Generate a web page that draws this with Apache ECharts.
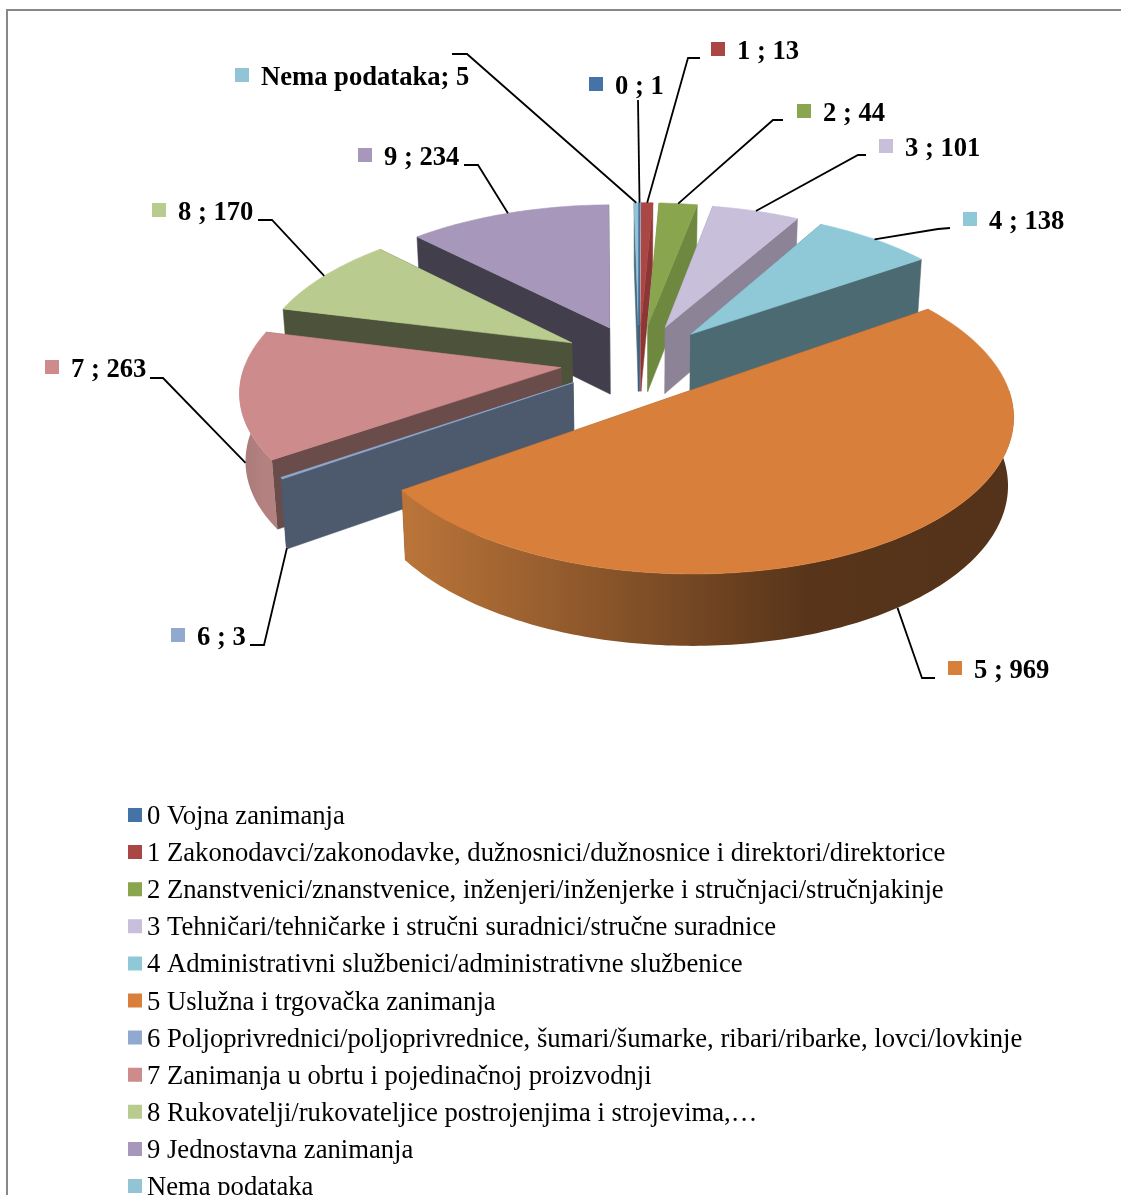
<!DOCTYPE html>
<html><head><meta charset="utf-8">
<style>html,body{margin:0;padding:0;background:#fff;overflow:hidden}#c{width:1121px;height:1195px}</style>
<script src="https://cdn.jsdelivr.net/npm/echarts@6/dist/echarts.min.js"></script>
</head><body><div id="c"></div>
<script>
// ---- data ----
const codes = ['0','1','2','3','4','5','6','7','8','9','Nema podataka'];
const values = [1,13,44,101,138,969,3,263,170,234,5];
const legendNames = [
 '0 Vojna zanimanja',
 '1 Zakonodavci/zakonodavke, dužnosnici/dužnosnice i direktori/direktorice',
 '2 Znanstvenici/znanstvenice, inženjeri/inženjerke i stručnjaci/stručnjakinje',
 '3 Tehničari/tehničarke i stručni suradnici/stručne suradnice',
 '4 Administrativni službenici/administrativne službenice',
 '5 Uslužna i trgovačka zanimanja',
 '6 Poljoprivrednici/poljoprivrednice, šumari/šumarke, ribari/ribarke, lovci/lovkinje',
 '7 Zanimanja u obrtu i pojedinačnoj proizvodnji',
 '8 Rukovatelji/rukovateljice postrojenjima i strojevima,…',
 '9 Jednostavna zanimanja',
 'Nema podataka'
];
// ---- style ----
const topColors  = ['#4572a7','#aa4643','#89a54e','#c8bfda','#8fc9d8','#d8803b','#92a9cf','#cd8c8b','#b9cb8f','#a697bb','#93c4d6'];
const wallColors = ['#2f4a6e','#8a3735','#6f8840','#8c8396','#4c6a72','#8a5226','#4d5a6e','#6a4c4a','#4c533a','#433e4b','#4a6a78'];
const outerStops = {5:['#bb7539','#57341a','#54331a'],7:['#a87a79','#b38180','#b38180']};
const drawOrder = [10,0,1,2,3,4,9,8,7,6,5];
const keys = [[589,77],[711,42],[797,104],[879,139],[963,212],[948,661],[171,628],[45,360],[152,203],[358,148],[235,68]];
// leader elbows: label end, elbow; wf = fraction of wall height where the leader meets the slice
const leaders = [
 {p:[[638,100]],wf:0},
 {p:[[700,58],[688,58]],wf:0},
 {p:[[783,120],[773,120]],wf:0},
 {p:[[866,155],[858,155]],wf:0},
 {p:[[950,228],[938,229]],wf:0},
 {p:[[935,678],[922,678]],wf:1},
 {p:[[250,645],[264,645]],wf:1},
 {p:[[150,378],[163,378]],wf:1},
 {p:[[258,220],[272,220]],wf:0},
 {p:[[464,165],[478,165]],wf:0},
 {p:[[452,54],[467,54]],wf:0}
];
const cx=639, cy=361, Rx=315, A=148, D=7.4, EXPL=0.25, H=67, BOTTOM_X=0.985;
const total = values.reduce((a,b)=>a+b,0);
const cum=[]; values.reduce((a,v,i)=>{cum[i]=a;return a+v;},0);
function proj(X,Z,down){
  const s=1/(1-Z/D);
  if(down) return [cx+X*Rx*s*BOTTOM_X, cy+Z*A*s+H*Math.pow(s,0.4)];
  return [cx+X*Rx*s, cy+Z*A*s];
}
function makeRender(i){
  return function(params,api){
    const v=api.value(0);
    const a0=cum[i]/total*2*Math.PI, a1=(cum[i]+v)/total*2*Math.PI, am=(a0+a1)/2;
    const ox=EXPL*Math.sin(am), oz=-EXPL*Math.cos(am);
    const pt=(a,d)=>proj(ox+Math.sin(a),oz-Math.cos(a),d);
    const n=Math.max(2,Math.ceil((a1-a0)/(Math.PI/180)));
    const topArc=[],botArc=[],frontT=[],frontB=[];
    for(let k=0;k<=n;k++){
      const a=a0+(a1-a0)*k/n;
      const t=pt(a,false),b=pt(a,true);
      topArc.push(t);botArc.push(b);
      if(Math.cos(a)<0.03){frontT.push(t);frontB.push(b);}
    }
    const apT=proj(ox,oz,false), apB=proj(ox,oz,true);
    const wall=(j)=>({type:'polygon',shape:{points:[apT,topArc[j],botArc[j],apB]},style:{fill:wallColors[i],stroke:wallColors[i],lineWidth:0.5}});
    const w0=wall(0), w1=wall(n);
    const topFace={type:'polygon',shape:{points:[apT].concat(topArc)},style:{fill:topColors[i],stroke:topColors[i],lineWidth:0.6}};
    const children=am>Math.PI?[w1,w0]:[w0,w1];
    if(frontT.length>1){
      let outerFill=wallColors[i];
      if(outerStops[i]){
        const st=outerStops[i];
        outerFill=new echarts.graphic.LinearGradient(0,0,1,0,[{offset:0,color:st[0]},{offset:0.67,color:st[1]},{offset:1,color:st[2]}]);
      }
      children.push({type:'polygon',shape:{points:frontT.concat(frontB.slice().reverse())},style:{fill:outerFill}});
    }
    children.push(topFace);
    // leader
    const L=leaders[i];
    const m=proj(ox+Math.sin(am),oz-Math.cos(am),false);
    const mb=proj(ox+Math.sin(am),oz-Math.cos(am),true);
    const anchor=[m[0]+(mb[0]-m[0])*L.wf,m[1]+(mb[1]-m[1])*L.wf];
    children.push({type:'polyline',shape:{points:L.p.concat([anchor])},style:{fill:'none',stroke:'#000',lineWidth:1.8}});
    // label with key
    const K=keys[i];
    children.push({type:'rect',shape:{x:K[0],y:K[1],width:14,height:14},style:{fill:topColors[i]}});
    const sep=codes[i].length>1?'; ':' ; ';
    children.push({type:'text',style:{text:codes[i]+sep+v,x:K[0]+26,y:K[1]+10.5,font:'bold 26.6px "Liberation Serif"',fill:'#000',verticalAlign:'middle',align:'left'}});
    return {type:'group',children:children};
  };
}
const series=values.map((v,i)=>({
  type:'custom',name:legendNames[i],coordinateSystem:'none',
  z:2+drawOrder.indexOf(i),
  data:[[v]],encode:{value:0},
  itemStyle:{color:topColors[i]},
  renderItem:makeRender(i),silent:true
}));
const chart=echarts.init(document.getElementById('c'),null,{renderer:'canvas'});
chart.setOption({
  animation:false,backgroundColor:'#fff',color:topColors,
  graphic:[{type:'rect',z:0,shape:{x:7,y:10,width:1300,height:1400},style:{fill:'none',stroke:'#888',lineWidth:2},silent:true}],
  legend:{
    show:true,orient:'vertical',left:128,top:802,height:600,padding:0,
    itemWidth:14,itemHeight:18,itemGap:7.1,selectedMode:false,
    icon:'path://M0,0L14,0L14,14L0,14ZM0,18L14,18Z',
    data:legendNames,
    textStyle:{fontFamily:'Liberation Serif',fontSize:26.65,color:'#000',lineHeight:30,padding:0}
  },
  series:series
});
</script></body></html>
